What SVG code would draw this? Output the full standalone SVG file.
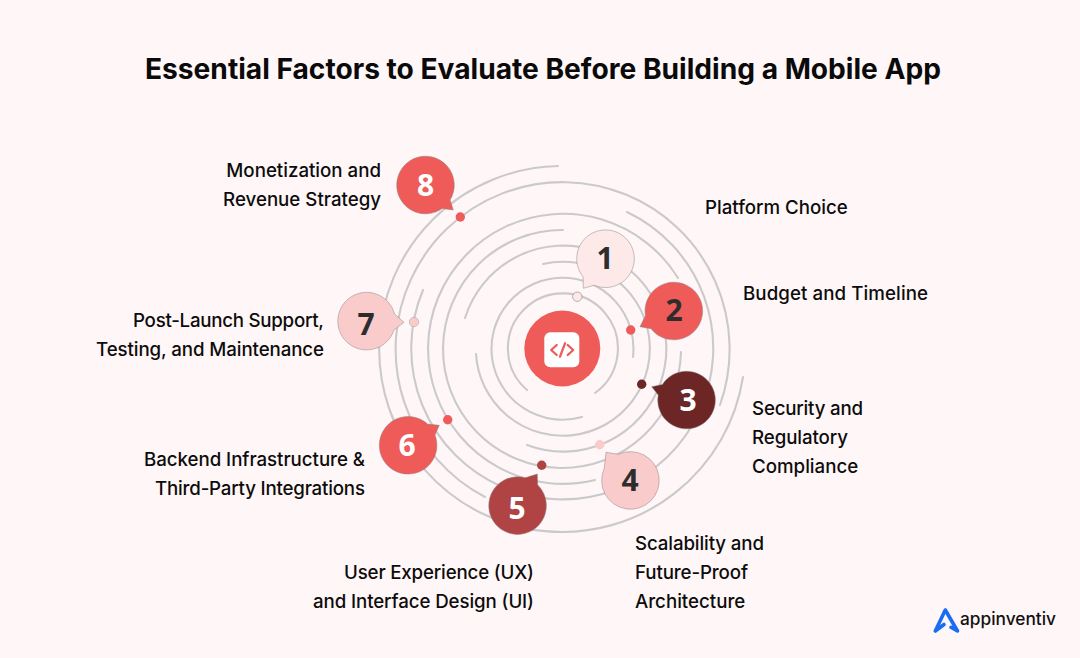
<svg xmlns="http://www.w3.org/2000/svg" width="1080" height="658" viewBox="0 0 1080 658">
<style>
.ring{fill:none;stroke:#cbcaca;stroke-width:2.1;stroke-linecap:round}
.lbl{font-family:Inter,"Liberation Sans",sans-serif;font-size:18.7px;font-weight:500;fill:#0c0c0c}
.num{font-family:"Open Sans","Noto Sans",sans-serif;font-size:30px;font-weight:700;text-anchor:middle}
.bub{stroke:#8f8585;stroke-width:.5}
.end{text-anchor:end}
</style>
<rect width="1080" height="658" fill="#fff6f7"/>
<text x="543" y="79" text-anchor="middle" font-family="Inter,'Liberation Sans',sans-serif" font-size="28.15" font-weight="700" fill="#0a0a0a">Essential Factors to Evaluate Before Building a Mobile App</text>
<g id="connectors">
<path class="ring" d="M527 390A55 55 0 1 1 595 393"/>
<path class="ring" d="M633 357A71 71 0 1 0 582 417"/>
<path class="ring" d="M543 264A87 87 0 1 1 476 354"/>
<path class="ring" d="M465 318A103 103 0 1 1 527 445"/>
<path class="ring" d="M563 230A119 119 0 1 0 681 352"/>
<path class="ring" d="M678 278A135 135 0 1 0 595 480"/>
<path class="ring" d="M627 212A151 151 0 1 1 423 290"/>
<path class="ring" d="M720 405A167 167 0 1 0 485 497"/>
<path class="ring" d="M558 166A183 183 0 1 0 743 377"/>
</g>
<g id="center"><circle cx="562.300" cy="348.500" r="38" fill="#ee5b59"/>
<rect x="544.300" y="332.300" width="35" height="35" rx="6" fill="#fff"/>
<path d="M556.700 345L551.200 350L556.700 355M567.700 345L573.200 350L567.700 355M565 343.300L560 356.700" fill="none" stroke="#ee5b59" stroke-width="2.300" stroke-linecap="round" stroke-linejoin="round"/></g>
<g id="node-1"><circle cx="577.300" cy="296.700" r="4.700" fill="#fce9e8" stroke="#8a8080" stroke-width=".6"/><path class="bub" fill="#fce9e8" d="M583.100 276.800A28.800 28.800 0 1 1 594.200 285.200L583.300 288.300Z"/><text class="num" x="605" y="269" fill="#2d2d2d">1</text></g>
<g id="node-2"><circle cx="630.700" cy="330" r="4.700" fill="#ee5b59"/><path class="bub" fill="#ee5b59" d="M645.400 315.750A28.800 28.800 0 1 1 651.100 328.750L640 326.700Z"/><text class="num" x="674" y="321" fill="#2d2d2d">2</text></g>
<g id="node-3"><circle cx="641.700" cy="384.300" r="4.700" fill="#6b2625"/><path class="bub" fill="#6b2625" d="M662.400 384.400A28.800 28.800 0 1 1 658.200 395.100L651.700 386.700Z"/><text class="num" x="688" y="411" fill="#fff">3</text></g>
<g id="node-4"><circle cx="599.700" cy="444.700" r="4.700" fill="#f9cbcb"/><path class="bub" fill="#f9cbcb" d="M618.300 454.300A28.800 28.800 0 1 1 604.300 468.300L606 452.300Z"/><text class="num" x="630" y="491" fill="#2d2d2d">4</text></g>
<g id="node-5"><circle cx="541.700" cy="465.300" r="4.700" fill="#b04444"/><path class="bub" fill="#b04444" d="M537.700 485A28.800 28.800 0 1 1 525.100 477.800L537.300 474Z"/><text class="num" x="517" y="519" fill="#fff">5</text></g>
<g id="node-6"><circle cx="447.700" cy="419.700" r="4.700" fill="#ee5b59"/><path class="bub" fill="#ee5b59" d="M435 435A28.800 28.800 0 1 1 427.600 424.100L439.300 425.300Z"/><text class="num" x="407" y="456" fill="#fff">6</text></g>
<g id="node-7"><circle cx="414" cy="322" r="4.700" fill="#f9cbcb" stroke="#a99" stroke-width=".5"/><path class="bub" fill="#f9cbcb" d="M394 330A28.800 28.800 0 1 1 394.500 314L404 322.300Z"/><text class="num" x="366" y="335" fill="#2d2d2d">7</text></g>
<g id="node-8"><circle cx="460.300" cy="217" r="4.700" fill="#ee5b59"/><path class="bub" fill="#ee5b59" d="M442.200 208.500A28.800 28.800 0 1 1 450.100 200L453.300 210Z"/><text class="num" x="425.500" y="196" fill="#fff">8</text></g>
<g id="labels">
<text class="lbl end" x="381" y="177.300">Monetization and</text><text class="lbl end" x="381" y="206.300">Revenue Strategy</text>
<text class="lbl" x="705" y="214.300">Platform Choice</text>
<text class="lbl" x="743" y="300.300" textLength="185">Budget and Timeline</text>
<text class="lbl" x="133" y="327.300" textLength="191">Post-Launch Support,</text><text class="lbl" x="96" y="356.300" textLength="228">Testing, and Maintenance</text>
<text class="lbl" x="752" y="415.300" textLength="111">Security and</text><text class="lbl" x="752" y="444.300" textLength="96">Regulatory</text><text class="lbl" x="752" y="473.300">Compliance</text>
<text class="lbl" x="144" y="466.300" textLength="221">Backend Infrastructure &amp;</text><text class="lbl" x="155" y="495.300" textLength="210">Third-Party Integrations</text>
<text class="lbl" x="635" y="550.300" textLength="129">Scalability and</text><text class="lbl" x="635" y="579.300" textLength="113">Future-Proof</text><text class="lbl" x="635" y="608.300">Architecture</text>
<text class="lbl" x="344" y="579.300" textLength="190">User Experience (UX)</text><text class="lbl" x="313" y="608.300" textLength="221">and Interface Design (UI)</text>
</g>
<g id="logo"><path d="M944 624.500L935.300 631L945.300 610L957.500 631L951 627.300" fill="none" stroke="#1a6cf5" stroke-width="3.600" stroke-linejoin="round" stroke-linecap="round"/>
<text x="960" y="625" font-family="Inter,'Liberation Sans',sans-serif" font-size="17.3" font-weight="500" fill="#111">appinventiv</text></g>
</svg>
